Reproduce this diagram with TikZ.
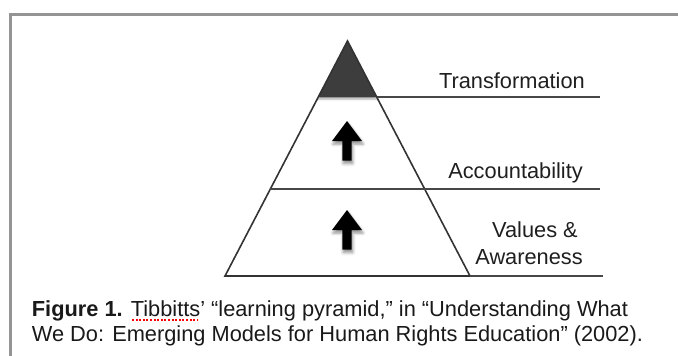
\documentclass[tikz,border=0pt]{standalone}
\usepackage{fontspec}
\setmainfont{Liberation Sans}
\usepackage{tikz}
\usetikzlibrary{shadows.blur}

\begin{document}
\begin{tikzpicture}[x=1pt, y=-1pt, >=stealth,
		levellabel/.style={anchor=base east, inner sep=0pt, text=black!88, font=\fontsize{21.8}{25}\selectfont},
		levelrule/.style={black!72, line width=1.3pt},
		liftarrow/.style={fill=black, blur shadow={shadow xshift=1pt, shadow yshift=-3pt, shadow blur radius=3pt, shadow opacity=45}}]
			\useasboundingbox (0,0) rectangle (678,356);
			% frame
			\draw[black!42, line width=2.8pt] (10.5,356) -- (10.5,14.7) -- (678,14.7);
			% coordinates
			\coordinate (A) at (347.5,41);
			\coordinate (L) at (225,276);
			\coordinate (R) at (470,276);
			\coordinate (T1) at (318.3,97);
			\coordinate (T2) at (376.7,97);
			\coordinate (M1) at (270.4,189);
			% pyramid
			\filldraw[fill=black!76, draw=black!76, blur shadow={shadow xshift=0pt, shadow yshift=-2pt, shadow blur radius=2pt, shadow opacity=35}]
			(A) -- (T1) -- (T2) -- cycle;
			\draw[black!80, line width=1.6pt] (A) -- (L) -- (R) -- cycle;
			% levels
			\draw[levelrule] (T2) -- (600,97);
			\draw[levelrule] (M1) -- (600,189);
			\draw[levelrule] (R) -- (603,276);
			% arrows
			\foreach \ytip in {121,210}
				\fill[liftarrow] (347,\ytip) -- ++(15,20) -- ++(-10.3,0) -- ++(0,19.5) -- ++(-9.4,0) -- ++(0,-19.5) -- ++(-10.3,0) -- cycle;
			% labels
			\node[levellabel] (transformation) at (585,88.3) {Transformation};
			\node[levellabel] (accountability) at (583,178.3) {Accountability};
			\node[levellabel] (values) at (578,237.3) {Values \&};
			\node[levellabel] (awareness) at (583,264) {Awareness};
			% caption (base is the last line)
			\node[anchor=base west, align=left, inner sep=0pt, text=black!90, font=\fontsize{21.8}{25}\selectfont] (caption) at (31.7,341.7)
			{\textbf{Figure 1.} Tibbitts’ “learning pyramid,” in “Understanding What\\We Do: Emerging Models for Human Rights Education” (2002).};
			\draw[red, line width=2pt, dash pattern=on 2pt off 1.6pt] (132,320) -- (198,320);
		\end{tikzpicture}
\end{document}
